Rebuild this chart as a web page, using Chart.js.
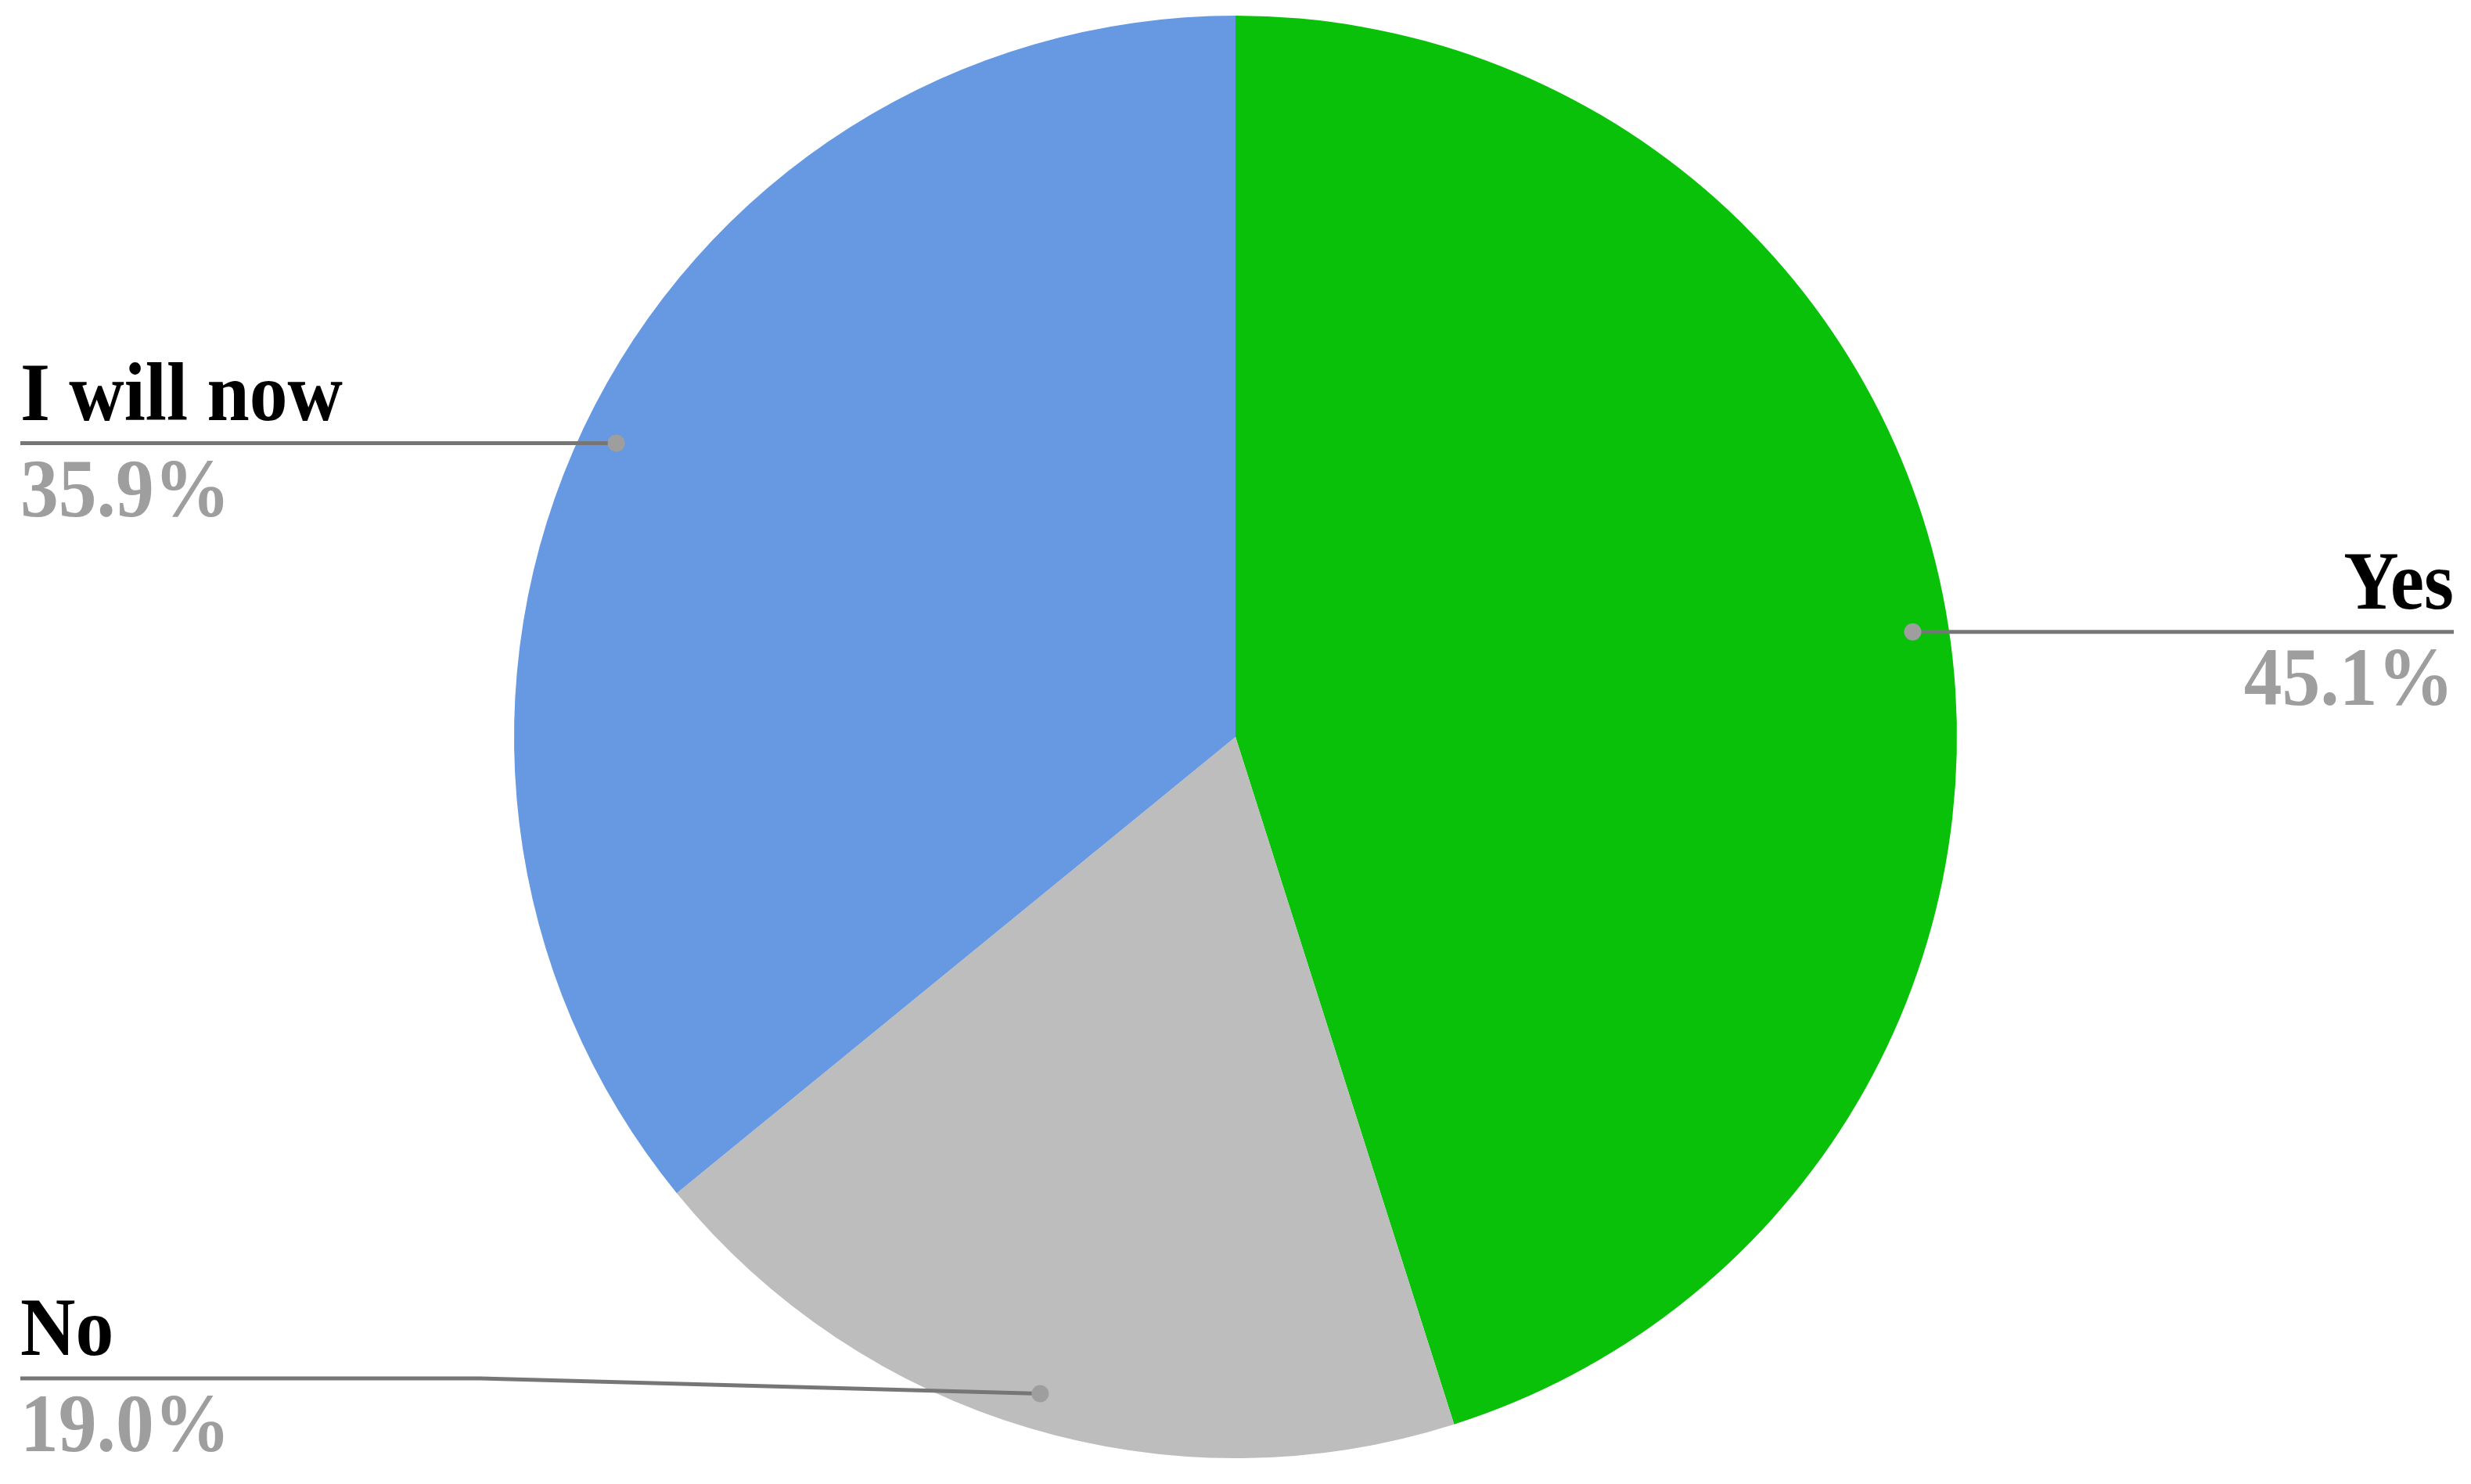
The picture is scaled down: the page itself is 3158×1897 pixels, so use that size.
<!DOCTYPE html>
<html>
<head>
<meta charset="utf-8">
<script src="https://cdn.jsdelivr.net/npm/chart.js@4.4.0/dist/chart.umd.min.js"></script>
<style>
  html, body { margin: 0; padding: 0; background: #fff; }
  #wrap { width: 3158px; height: 1897px; }
</style>
</head>
<body>
<div id="wrap"><canvas id="pieChart" width="3158" height="1897"></canvas></div>
<script>
// chart data
const labels = ['Yes', 'No', 'I will now'];
const values = [45.1, 19.0, 35.9];
const sliceColors = ['#09c109', '#bdbdbd', '#6699e2'];

// callout labels drawn next to each slice
const calloutPlugin = {
    id: 'callouts',
    afterDatasetsDraw(chart) {
        const ctx = chart.ctx;
        const meta = chart.getDatasetMeta(0);
        const W = chart.width;
        const H = chart.height;
        const squeeze = 0.92; // text is a bit condensed in the original

        meta.data.forEach((arc, i) => {
            const p = arc.getProps(['x', 'y', 'startAngle', 'endAngle', 'outerRadius'], true);
            const mid = (p.startAngle + p.endAngle) / 2;
            const dotX = p.x + Math.cos(mid) * p.outerRadius * 0.95;
            const dotY = p.y + Math.sin(mid) * p.outerRadius * 0.95;
            const right = Math.cos(mid) > 0;
            const endX = right ? W - 22 : 26;
            const lineY = Math.min(dotY, H - 135);

            // leader line
            ctx.save();
            ctx.strokeStyle = '#767676';
            ctx.lineWidth = 5;
            ctx.beginPath();
            ctx.moveTo(dotX, dotY);
            if (lineY !== dotY) {
                ctx.lineTo(614, lineY);
            }
            ctx.lineTo(endX, lineY);
            ctx.stroke();

            // dot
            ctx.fillStyle = '#9e9e9e';
            ctx.beginPath();
            ctx.arc(dotX, dotY, 11, 0, Math.PI * 2);
            ctx.fill();

            // texts
            ctx.translate(endX, lineY);
            ctx.scale(squeeze, 1);
            ctx.textAlign = right ? 'right' : 'left';
            ctx.textBaseline = 'alphabetic';
            ctx.font = 'bold 106px "Liberation Serif", "Times New Roman", serif';
            ctx.fillStyle = '#000000';
            ctx.fillText(labels[i], 0, -30);
            ctx.fillStyle = '#9e9e9e';
            ctx.fillText(values[i].toFixed(1) + '%', 0, 93);
            ctx.restore();
        });
    }
};

new Chart(document.getElementById('pieChart'), {
    type: 'pie',
    data: {
        labels: labels,
        datasets: [{
            data: values,
            backgroundColor: sliceColors,
            borderWidth: 0
        }]
    },
    options: {
        responsive: false,
        animation: false,
        layout: {
            padding: { top: 20, bottom: 33, left: 0, right: 0 }
        },
        plugins: {
            legend: { display: false },
            tooltip: { enabled: false }
        }
    },
    plugins: [calloutPlugin]
});
</script>
</body>
</html>
